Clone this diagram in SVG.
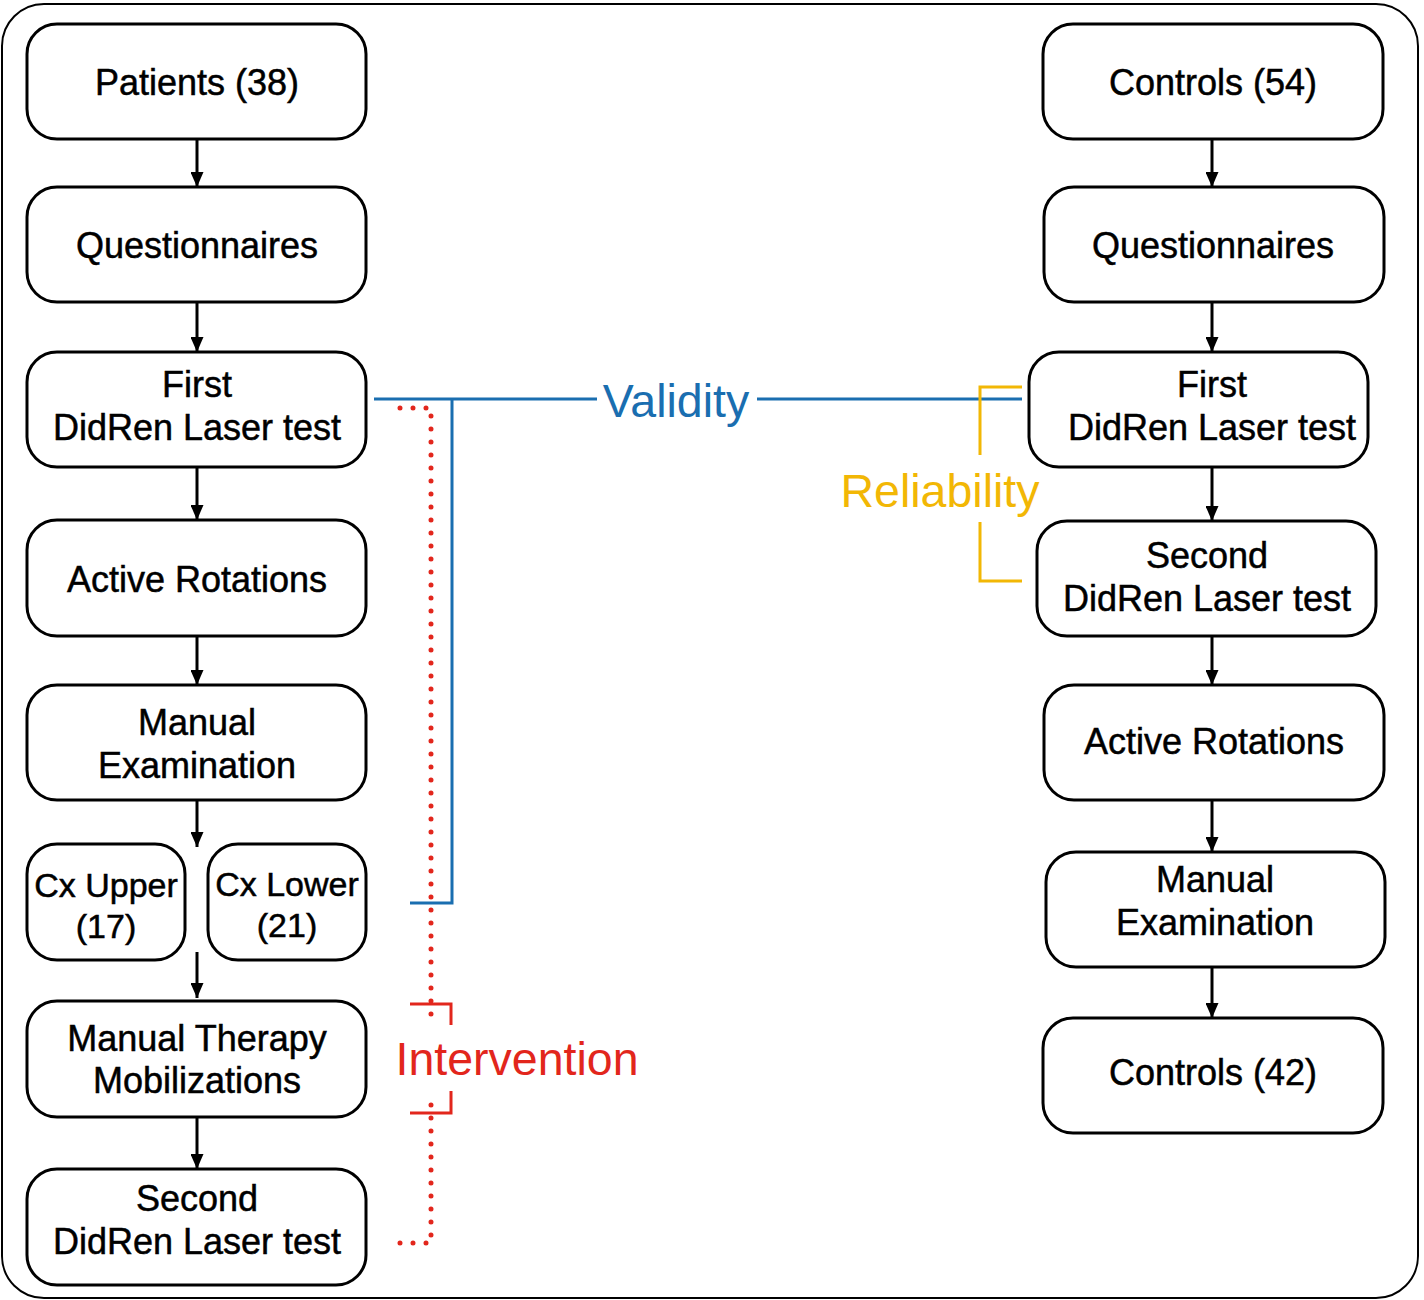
<svg xmlns="http://www.w3.org/2000/svg" width="1424" height="1300" viewBox="0 0 1424 1300">
<defs>
<marker id="arr" markerUnits="userSpaceOnUse" markerWidth="15" markerHeight="13" refX="15" refY="6.5" orient="auto" viewBox="0 0 15 13">
<path d="M0,0 L15,6.5 L0,13 Z" fill="#000"/>
</marker>
</defs>
<style>
.n{fill:#fff;stroke:#000;stroke-width:3}
.t{font-family:"Liberation Sans",Arial,sans-serif;font-size:36px;fill:#000;text-anchor:middle;stroke:#000;stroke-width:0.5}
.s{font-size:34px}
.c{stroke:#000;stroke-width:3;fill:none;marker-end:url(#arr)}
.big{font-family:"Liberation Sans",Arial,sans-serif;font-size:46.5px;text-anchor:middle}
.dot{stroke:#e2261c;stroke-width:5;stroke-dasharray:0 13;stroke-linecap:round;fill:none}
</style>
<rect x="2" y="4" width="1416" height="1294" rx="42" fill="#fff" stroke="#000" stroke-width="2"/>

<g id="connectors">
<line class="c" x1="197" y1="139" x2="197" y2="187"/>
<line class="c" x1="197" y1="302" x2="197" y2="352"/>
<line class="c" x1="197" y1="467" x2="197" y2="520"/>
<line class="c" x1="197" y1="636" x2="197" y2="685"/>
<line class="c" x1="197" y1="800" x2="197" y2="847"/>
<line class="c" x1="197" y1="952" x2="197" y2="998"/>
<line class="c" x1="197" y1="1117" x2="197" y2="1169"/>
<line class="c" x1="1212" y1="139" x2="1212" y2="187"/>
<line class="c" x1="1212" y1="302" x2="1212" y2="352"/>
<line class="c" x1="1212" y1="467" x2="1212" y2="521"/>
<line class="c" x1="1212" y1="636" x2="1212" y2="685"/>
<line class="c" x1="1212" y1="800" x2="1212" y2="852"/>
<line class="c" x1="1212" y1="967" x2="1212" y2="1018"/>
</g>

<g id="validity" stroke="#1a6eb0" stroke-width="3" fill="none">
<polyline points="374,399 597,399"/>
<polyline points="757,399 1022,399"/>
<polyline points="452,399 452,903 410,903"/>
<text class="big" x="676" y="417" fill="#1a6eb0" stroke="none">Validity</text>
</g>

<g id="intervention" fill="none">
<path class="dot" d="M400,408 H431 V1024"/>
<path class="dot" d="M400,1243 H431 V1094"/>
<polyline points="410,1004 451,1004 451,1025" stroke="#e2261c" stroke-width="3"/>
<polyline points="410,1113 451,1113 451,1091" stroke="#e2261c" stroke-width="3"/>
<text class="big" x="517" y="1075" fill="#e2261c">Intervention</text>
</g>

<g id="reliability" fill="none" stroke="#f2b705" stroke-width="3">
<polyline points="1022,387 980,387 980,455"/>
<polyline points="980,522 980,581 1022,581"/>
<text class="big" x="940" y="507" fill="#f2b705" stroke="none">Reliability</text>
</g>

<g id="l1"><rect class="n" x="27" y="24" width="339" height="115" rx="30"/><text class="t" x="197" y="95">Patients (38)</text></g>
<g id="l2"><rect class="n" x="27" y="187" width="339" height="115" rx="30"/><text class="t" x="197" y="258">Questionnaires</text></g>
<g id="l3"><rect class="n" x="27" y="352" width="339" height="115" rx="30"/><text class="t" x="197" y="397">First</text><text class="t" x="197" y="440">DidRen Laser test</text></g>
<g id="l4"><rect class="n" x="27" y="520" width="339" height="116" rx="30"/><text class="t" x="197" y="592">Active Rotations</text></g>
<g id="l5"><rect class="n" x="27" y="685" width="339" height="115" rx="30"/><text class="t" x="197" y="735">Manual</text><text class="t" x="197" y="778">Examination</text></g>
<g id="l6a"><rect class="n" x="27" y="844" width="158" height="116" rx="30"/><text class="t s" x="106" y="897">Cx Upper</text><text class="t s" x="106" y="938">(17)</text></g>
<g id="l6b"><rect class="n" x="208" y="844" width="158" height="116" rx="30"/><text class="t s" x="287" y="896">Cx Lower</text><text class="t s" x="287" y="937">(21)</text></g>
<g id="l7"><rect class="n" x="27" y="1001" width="339" height="116" rx="30"/><text class="t" x="197" y="1051">Manual Therapy</text><text class="t" x="197" y="1093">Mobilizations</text></g>
<g id="l8"><rect class="n" x="27" y="1169" width="339" height="116" rx="30"/><text class="t" x="197" y="1211">Second</text><text class="t" x="197" y="1254">DidRen Laser test</text></g>

<g id="r1"><rect class="n" x="1043" y="24" width="340" height="115" rx="30"/><text class="t" x="1213" y="95">Controls (54)</text></g>
<g id="r2"><rect class="n" x="1044" y="187" width="340" height="115" rx="30"/><text class="t" x="1213" y="258">Questionnaires</text></g>
<g id="r3"><rect class="n" x="1029" y="352" width="339" height="115" rx="30"/><text class="t" x="1212" y="397">First</text><text class="t" x="1212" y="440">DidRen Laser test</text></g>
<g id="r4"><rect class="n" x="1037" y="521" width="339" height="115" rx="30"/><text class="t" x="1207" y="568">Second</text><text class="t" x="1207" y="611">DidRen Laser test</text></g>
<g id="r5"><rect class="n" x="1044" y="685" width="340" height="115" rx="30"/><text class="t" x="1214" y="754">Active Rotations</text></g>
<g id="r6"><rect class="n" x="1046" y="852" width="339" height="115" rx="30"/><text class="t" x="1215" y="892">Manual</text><text class="t" x="1215" y="935">Examination</text></g>
<g id="r7"><rect class="n" x="1043" y="1018" width="340" height="115" rx="30"/><text class="t" x="1213" y="1085">Controls (42)</text></g>
</svg>
